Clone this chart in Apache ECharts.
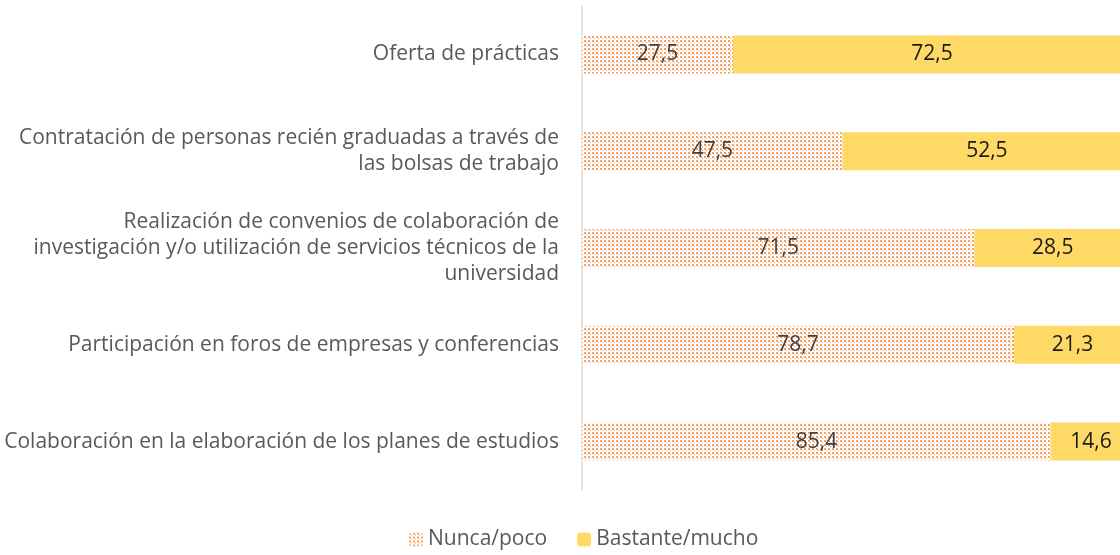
<!DOCTYPE html>
<html>
<head>
<meta charset="utf-8">
<script src="https://cdn.jsdelivr.net/npm/echarts@6/dist/echarts.min.js"></script>
<style>
  html, body { margin: 0; padding: 0; background: #fff; }
  #main { width: 1120px; height: 555px; }
</style>
</head>
<body>
<div id="main"></div>
<script>
const categories = [
  "Oferta de prácticas",
  "Contratación de personas recién graduadas a través de\nlas bolsas de trabajo",
  "Realización de convenios de colaboración de\ninvestigación y/o utilización de servicios técnicos de la\nuniversidad",
  "Participación en foros de empresas y conferencias",
  "Colaboración en la elaboración de los planes de estudios"
];
const nuncaPoco = [27.5, 47.5, 71.5, 78.7, 85.4];
const bastanteMucho = [72.5, 52.5, 28.5, 21.3, 14.6];

// trama de puntos naranjas
const makeDots = () => {
  const c = document.createElement("canvas");
  c.width = 4;
  c.height = 4;
  const ctx = c.getContext("2d");
  ctx.fillStyle = "#fff";
  ctx.fillRect(0, 0, 4, 4);
  ctx.fillStyle = "#F4A164";
  ctx.fillRect(0, 0, 2, 2);
  ctx.fillRect(2, 2, 1, 1);
  return c;
};
const dots = { image: makeDots(), repeat: "repeat" };

const fmt = (p) => p.value.toFixed(1).replace(".", ",");
const font = "Open Sans";

const chart = echarts.init(document.getElementById("main"));
chart.setOption({
  animation: false,
  textStyle: { fontFamily: font },
  grid: { left: 582, width: 549, top: 6, bottom: 65, outerBoundsMode: "none", containLabel: false },
  xAxis: { type: "value", max: 100, show: false },
  yAxis: {
    type: "category",
    inverse: true,
    data: categories,
    axisLine: { lineStyle: { color: "#D9D9D9", width: 1.5 } },
    axisTick: { show: false },
    axisLabel: {
      margin: 23,
      color: "#595959",
      fontSize: 21,
      lineHeight: 26,
      align: "right",
      fontFamily: font
    }
  },
  legend: {
    bottom: 0,
    left: 404,
    itemWidth: 14,
    itemHeight: 14,
    itemGap: 30,
    textStyle: { color: "#595959", fontSize: 21, fontFamily: font },
    data: ["Nunca/poco", "Bastante/mucho"]
  },
  series: [
    {
      name: "Nunca/poco",
      type: "bar",
      stack: "t",
      barWidth: 38,
      data: nuncaPoco,
      itemStyle: { color: dots },
      label: { show: true, formatter: fmt, color: "#404040", fontSize: 21, fontFamily: font }
    },
    {
      name: "Bastante/mucho",
      type: "bar",
      stack: "t",
      barWidth: 38,
      data: bastanteMucho,
      itemStyle: { color: "#FFD966" },
      label: { show: true, formatter: fmt, color: "#1a1a1a", fontSize: 21, fontFamily: font }
    }
  ]
});
</script>
</body>
</html>
